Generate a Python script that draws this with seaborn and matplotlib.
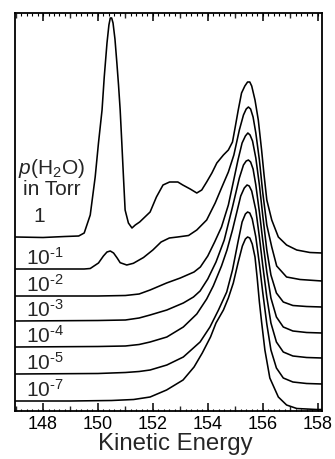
import numpy as np
import pandas as pd
import matplotlib
matplotlib.use("Agg")
import matplotlib.pyplot as plt
from matplotlib.ticker import MultipleLocator
import seaborn as sns

# ---------------- data ----------------
pressure_labels = ["1", "10$^{\\text{-}1}$", "10$^{\\text{-}2}$", "10$^{\\text{-}3}$",
                   "10$^{\\text{-}4}$", "10$^{\\text{-}5}$", "10$^{\\text{-}7}$"]
# vertical stacking offsets of each spectrum (arbitrary units)
offsets = [158, 130, 104, 78, 53, 27, 1.5]

ke_p0 = [147.0, 148.0, 148.8, 149.3, 149.5, 149.72, 149.9, 150.02, 150.15, 150.23, 150.33, 150.4,
         150.45, 150.5, 150.55, 150.62, 150.69, 150.75, 150.81, 150.87, 150.93, 150.99, 151.11, 151.24,
         151.36, 151.52, 151.9, 152.13, 152.37, 152.61, 152.91, 153.09, 153.36, 153.6, 153.78,
         153.96, 154.15, 154.33, 154.57, 154.75, 154.9, 155.0, 155.11, 155.23, 155.35, 155.45, 155.53,
         155.6, 155.72, 155.84, 155.96, 156.05, 156.15, 156.33, 156.57, 156.87, 157.24, 157.72, 158.16]
int_p0 = [16, 15.5, 16.5, 17, 20, 38, 76, 110, 143, 176, 210, 228,
          235, 235, 230, 214, 190, 168, 143, 110, 76, 43, 30, 25,
          28, 31, 41, 56, 68, 71, 71, 68, 64, 60, 63,
          71, 80, 90, 98, 103, 111, 126, 143, 160, 167, 171, 171,
          167, 153, 133, 103, 78, 53, 33, 16, 8, 3, 0.5, 0]

ke_p1 = [147.0, 148.5, 149.5, 149.72, 150.02, 150.2, 150.33, 150.45, 150.57, 150.7, 150.81, 151.05, 151.29, 151.66,
         152.0, 152.3, 152.6, 152.9, 153.3, 153.6, 153.96, 154.27, 154.5, 154.75, 154.95, 155.15,
         155.3, 155.4, 155.48, 155.56, 155.65, 155.75, 155.88, 156.0, 156.15, 156.33, 156.51, 156.87, 157.36, 158.16]
int_p1 = [12, 12, 12, 12.5, 18, 25, 29, 30, 28, 23, 18.3, 16, 17.7, 23.5,
          31, 39, 43, 44, 45.5, 51, 61, 78, 93, 109, 126, 151,
          166, 172, 174, 172, 164, 148, 121, 89, 56, 34, 15, 4, 1.5, 0]

ke_p2 = [147.0, 150.0, 151.0, 151.5, 151.9, 152.5, 153.0, 153.5, 153.73, 154.0, 154.25, 154.5,
         154.75, 154.93, 155.1, 155.25, 155.37, 155.46, 155.54, 155.63, 155.75, 155.88, 156.0, 156.15, 156.3, 156.5,
         156.75, 157.1, 157.6, 158.16]
int_p2 = [11, 11, 11.5, 13, 17, 24, 29, 35, 40, 51, 65, 80,
          102, 125, 147, 164, 171, 174, 172, 166, 149, 122, 92, 57, 32, 14,
          5, 1.5, 0.5, 0]

ke_p3 = [147.0, 150.0, 151.0, 151.5, 151.9, 152.51, 153.11, 153.48, 153.72, 154.0, 154.3, 154.6,
         154.9, 155.15, 155.3, 155.4, 155.48, 155.56, 155.65, 155.75, 155.88, 156.0, 156.15, 156.3, 156.5, 156.75,
         157.1, 157.6, 158.16]
int_p3 = [12, 12.5, 13, 15, 18, 23, 30, 36, 42, 54, 71, 93,
          126, 155, 168, 172, 173, 171, 164, 148, 121, 93, 61, 35, 16, 6,
          2, 0.5, 0]

ke_p4 = [147.0, 150.0, 151.0, 151.5, 151.9, 152.51, 153.11, 153.6, 153.96, 154.2, 154.5, 154.7,
         154.9, 155.05, 155.2, 155.33, 155.43, 155.51, 155.6, 155.75, 155.88, 156.0, 156.15, 156.3, 156.5, 156.75,
         157.1, 157.6, 158.16]
int_p4 = [11, 11.5, 12, 13.5, 16, 21, 31, 44, 59, 72, 92, 108,
          128, 145, 162, 170, 173, 172, 167, 148, 121, 93, 61, 35, 16, 6,
          2, 0.5, 0]

ke_p5 = [147.0, 150.0, 151.0, 151.5, 151.9, 152.51, 153.11, 153.72, 154.08, 154.39, 154.69, 154.9,
         155.1, 155.25, 155.37, 155.45, 155.53, 155.62, 155.75, 155.88, 156.0, 156.15, 156.3, 156.5, 156.75, 157.1,
         157.6, 158.16]
int_p5 = [10, 10.5, 11.5, 12.5, 14, 19, 27, 42, 57, 74, 92, 114,
          142, 162, 170, 172, 171, 165, 147, 120, 92, 60, 34, 16, 6, 2,
          0.5, 0]

ke_p7 = [147.0, 149.0, 150.5, 151.3, 151.9, 152.5, 153.1, 153.5, 153.8, 154.1, 154.3, 154.57,
         154.75, 154.93, 155.11, 155.26, 155.37, 155.45, 155.53, 155.62, 155.72, 155.8, 155.88, 155.96, 156.08, 156.26,
         156.57, 156.87, 157.24, 157.96, 158.16]
int_p7 = [8.5, 8.5, 9, 10, 12.5, 19.5, 29.5, 42.5, 56.5, 72.5, 86.5, 99.5,
          111.5, 126.5, 147.5, 163.5, 170.5, 172.5, 171.5, 165.5, 152.5, 131.5, 107.5, 87.5, 59.5, 31.5,
          12.5, 4.5, 1, 0, 0]

ke_series = [ke_p0, ke_p1, ke_p2, ke_p3, ke_p4, ke_p5, ke_p7]
int_series = [int_p0, int_p1, int_p2, int_p3, int_p4, int_p5, int_p7]

xticks = [148, 150, 152, 154, 156, 158]

# ---------------- build long-form table ----------------
frames = []
for lab, off, ke, it in zip(pressure_labels, offsets, ke_series, int_series):
    frames.append(pd.DataFrame({"KE": ke,
                                "signal": np.asarray(it, dtype=float) + off,
                                "pressure": lab}))
df = pd.concat(frames, ignore_index=True)

# ---------------- style ----------------
sns.set_theme(style="white")
plt.rcParams["font.family"] = ["Liberation Sans", "DejaVu Sans"]
plt.rcParams["mathtext.fontset"] = "custom"
plt.rcParams["mathtext.rm"] = "Liberation Sans"
plt.rcParams["mathtext.it"] = "Liberation Sans:italic"
plt.rcParams["mathtext.default"] = "regular"

W, H = 335, 459
fig = plt.figure(figsize=(W / 100, H / 100), dpi=100)
ax = fig.add_axes([15 / W, 1 - 411 / H, (322 - 15) / W, (411 - 13) / H])

sns.lineplot(data=df, x="KE", y="signal", hue="pressure", units="pressure", estimator=None,
             sort=False, palette=["black"] * len(pressure_labels), linewidth=1.15,
             legend=False, ax=ax)

ax.set_xlim(146.98, 158.16)
ax.set_ylim(0, 398)
ax.set_xticks(xticks)
ax.set_xticklabels([str(t) for t in xticks])
ax.xaxis.set_minor_locator(MultipleLocator(1))
ax.set_yticks([])
ax.set_ylabel("")
ax.set_xlabel("Kinetic Energy", fontsize=17.3)
ax.xaxis.set_label_coords((175 - 15) / 307, -0.056)
ax.xaxis.label.set_va("top")
ax.tick_params(axis="x", which="major", direction="in", length=6, width=1.1,
               top=True, bottom=True, labelsize=13, pad=3.5, colors="black")
ax.tick_params(axis="x", which="minor", direction="in", length=3.5, width=1.0,
               top=True, bottom=True)
for s in ax.spines.values():
    s.set_visible(True)
    s.set_color("black")
    s.set_linewidth(1.3)

# fine tick marks along top and bottom
for side in ("bottom", "top"):
    sec = ax.secondary_xaxis(side)
    sec.set_xticks(np.arange(147.2, 158.1, 0.2))
    sec.tick_params(direction="in", length=1.8, width=0.8, labelbottom=False,
                    labeltop=False, colors="black")
    for s in sec.spines.values():
        s.set_visible(False)

# ---------------- annotations ----------------
ax.text(147.08, 237, "$\\mathit{p}$(H$_2$O)", fontsize=15, ha="left", va="baseline")
ax.text(147.27, 216, "in Torr", fontsize=15, ha="left", va="baseline")
ax.text(147.65, 189, "1", fontsize=15, ha="left", va="baseline")
for lab, off, it in zip(pressure_labels[1:], offsets[1:], int_series[1:]):
    ax.text(147.37, off + it[0] + 4, lab, fontsize=15, ha="left", va="baseline")

fig.savefig("out.png", dpi=100)
